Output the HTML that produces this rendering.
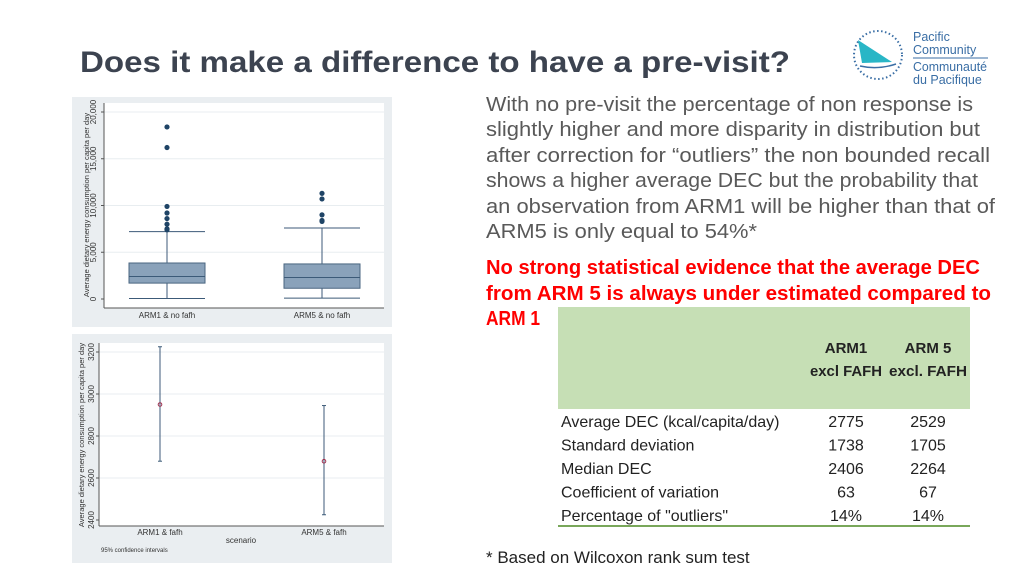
<!DOCTYPE html>
<html><head><meta charset="utf-8"><style>
html,body{margin:0;padding:0;background:#fff;width:1024px;height:576px;overflow:hidden}
svg text{font-family:"Liberation Sans",sans-serif}
</style></head><body>
<svg id="s" width="1024" height="576" viewBox="0 0 1024 576" xmlns="http://www.w3.org/2000/svg">
<text x="80" y="72" font-size="30" font-weight="bold" fill="#3c4350" textLength="710" lengthAdjust="spacingAndGlyphs">Does it make a difference to have a pre-visit?</text>
<g>
<circle cx="878" cy="55" r="24" fill="none" stroke="#3a6ea5" stroke-width="2" stroke-dasharray="1.5 2.5"/>
<polygon points="858,40 892,62 862,63" fill="#29b6c6"/>
<path d="M860,66 Q878,70 896,64" stroke="#3a6ea5" fill="none" stroke-width="1.5"/>
<text x="913" y="41" font-size="12.5" fill="#3a6ea5">Pacific</text>
<text x="913" y="54" font-size="12.5" fill="#3a6ea5">Community</text>
<line x1="913" y1="58" x2="988" y2="58" stroke="#3a6ea5"/>
<text x="913" y="71" font-size="12.5" fill="#3a6ea5" textLength="74" lengthAdjust="spacingAndGlyphs">Communauté</text>
<text x="913" y="84" font-size="12.5" fill="#3a6ea5">du Pacifique</text>
</g>
<g font-size="20" fill="#595959">
<text x="486" y="111" textLength="487" lengthAdjust="spacingAndGlyphs">With no pre-visit the percentage of non response is</text>
<text x="486" y="136" textLength="494" lengthAdjust="spacingAndGlyphs">slightly higher and more disparity in distribution but</text>
<text x="486" y="162" textLength="504" lengthAdjust="spacingAndGlyphs">after correction for “outliers” the non bounded recall</text>
<text x="486" y="187" textLength="492" lengthAdjust="spacingAndGlyphs">shows a higher average DEC but the probability that</text>
<text x="486" y="213" textLength="509" lengthAdjust="spacingAndGlyphs">an observation from ARM1 will be higher than that of</text>
<text x="486" y="238" textLength="271" lengthAdjust="spacingAndGlyphs">ARM5 is only equal to 54%*</text>
</g>
<g font-size="20" font-weight="bold" fill="#ff0000">
<text x="486" y="274" textLength="494" lengthAdjust="spacingAndGlyphs">No strong statistical evidence that the average DEC</text>
<text x="486" y="300" textLength="505" lengthAdjust="spacingAndGlyphs">from ARM 5 is always under estimated compared to</text>
<text x="486" y="325" textLength="54" lengthAdjust="spacingAndGlyphs">ARM 1</text>
</g>
<g>
<rect x="558" y="307" width="412" height="102" fill="#c6dfb5"/>
<line x1="558" y1="526" x2="970" y2="526" stroke="#79a75a" stroke-width="2"/>
<g font-size="15" font-weight="bold" fill="#222" text-anchor="middle">
<text x="846" y="353">ARM1</text><text x="846" y="376" textLength="72" lengthAdjust="spacingAndGlyphs">excl FAFH</text>
<text x="928" y="353">ARM 5</text><text x="928" y="376" textLength="78" lengthAdjust="spacingAndGlyphs">excl. FAFH</text>
</g>
<g id="rows" font-size="16" fill="#222"></g>
</g>
<text x="486" y="563" font-size="17" fill="#222">* Based on Wilcoxon rank sum test</text>
<g>
<rect x="72" y="97" width="320" height="230" fill="#eaeef1"/>
<rect x="104" y="103" width="280" height="205" fill="#fff"/>
<g id="box"></g>
</g>
<g>
<rect x="72" y="334" width="320" height="229" fill="#eaeef1"/>
<rect x="99" y="343" width="285" height="183" fill="#fff"/>
<g id="ci"></g>
</g>
</svg>
<script>
const rowLabels=["Average DEC (kcal/capita/day)","Standard deviation","Median DEC","Coefficient of variation","Percentage of \"outliers\""];
const arm1Vals=["2775","1738","2406","63","14%"];
const arm5Vals=["2529","1705","2264","67","14%"];
const boxCats=["ARM1 & no fafh","ARM5 & no fafh"];
const boxLow=[50,100];
const boxQ1=[1700,1150];
const boxMed=[2400,2300];
const boxQ3=[3850,3750];
const boxHigh=[7200,7600];
const boxOutliers=[[7400,7500,8000,8600,9200,9900,16200,18400],[8300,8400,9000,10700,11300]];
const boxTicks=[0,5000,10000,15000,20000];
const boxTickLabels=["0","5,000","10,000","15,000","20,000"];
const ciCats=["ARM1 & fafh","ARM5 & fafh"];
const ciMean=[2950,2680];
const ciLow=[2680,2425];
const ciHigh=[3225,2945];
const ciTicks=[2400,2600,2800,3000,3200];
const NS="http://www.w3.org/2000/svg";
function mk(p,t,a,txt){const e=document.createElementNS(NS,t);for(const k in a)e.setAttribute(k,a[k]);if(txt!==undefined)e.textContent=txt;p.appendChild(e);return e;}
const rows=document.getElementById('rows');
rowLabels.forEach((l,i)=>{const y=427+i*23.5;
 let e=mk(rows,'text',{x:561,y:y},l);
 e=mk(rows,'text',{x:846,y:y,'text-anchor':'middle'},arm1Vals[i]);
 e=mk(rows,'text',{x:928,y:y,'text-anchor':'middle'},arm5Vals[i]);
});
const bg=document.getElementById('box');
const by=v=>299-v/20000*187;
const bx=i=>[167,322][i];
boxTicks.forEach((t,i)=>{
 if(t>0){const g=mk(bg,'line',{x1:104,x2:384,y1:by(t),y2:by(t),stroke:'#e8edf0'});}
 const tx=mk(bg,'text',{x:0,y:0,'font-size':8,fill:'#333','text-anchor':'middle',transform:`translate(96,${by(t)}) rotate(-90)`},boxTickLabels[i]);
 
 mk(bg,'line',{x1:101,x2:104,y1:by(t),y2:by(t),stroke:'#555'});
});
mk(bg,'line',{x1:104,x2:104,y1:103,y2:308,stroke:'#555'});
mk(bg,'line',{x1:104,x2:384,y1:308,y2:308,stroke:'#555'});
let yt=mk(bg,'text',{x:0,y:0,'font-size':7.5,fill:'#333','text-anchor':'middle',transform:'translate(89,205) rotate(-90)'},'Average dietary energy consumption per capita per day');

boxCats.forEach((c,i)=>{const x=bx(i),w=38;
 mk(bg,'line',{x1:x,x2:x,y1:by(boxLow[i]),y2:by(boxQ1[i]),stroke:'#3c5a78'});
 mk(bg,'line',{x1:x,x2:x,y1:by(boxQ3[i]),y2:by(boxHigh[i]),stroke:'#3c5a78'});
 mk(bg,'line',{x1:x-w,x2:x+w,y1:by(boxLow[i]),y2:by(boxLow[i]),stroke:'#3c5a78'});
 mk(bg,'line',{x1:x-w,x2:x+w,y1:by(boxHigh[i]),y2:by(boxHigh[i]),stroke:'#3c5a78'});
 const r=mk(bg,'rect',{x:x-w,y:by(boxQ3[i]),width:2*w,height:by(boxQ1[i])-by(boxQ3[i]),fill:'#8aa2ba',stroke:'#4a6680'});
 
 mk(bg,'line',{x1:x-w,x2:x+w,y1:by(boxMed[i]),y2:by(boxMed[i]),stroke:'#3c5a78'});
 boxOutliers[i].forEach(v=>{const d=mk(bg,'circle',{cx:x,cy:by(v),r:2.6,fill:'#1f4466'});});
 const t=mk(bg,'text',{x:x,y:318,'font-size':8,fill:'#333','text-anchor':'middle'},c);
});
const cg=document.getElementById('ci');
const cy=v=>520-(v-2400)/800*168;
const cx=i=>[160,324][i];
ciTicks.forEach(t=>{
 if(t>2400){const g=mk(cg,'line',{x1:99,x2:384,y1:cy(t),y2:cy(t),stroke:'#e8edf0'});}
 const tx=mk(cg,'text',{x:0,y:0,'font-size':8,fill:'#333','text-anchor':'middle',transform:`translate(94,${cy(t)}) rotate(-90)`},String(t));
 
 mk(cg,'line',{x1:96,x2:99,y1:cy(t),y2:cy(t),stroke:'#555'});
});
mk(cg,'line',{x1:99,x2:99,y1:343,y2:526,stroke:'#555'});
mk(cg,'line',{x1:99,x2:384,y1:526,y2:526,stroke:'#555'});
yt=mk(cg,'text',{x:0,y:0,'font-size':7.5,fill:'#333','text-anchor':'middle',transform:'translate(84,435) rotate(-90)'},'Average dietary energy consumption per capita per day');

ciCats.forEach((c,i)=>{const x=cx(i);
 const l=mk(cg,'line',{x1:x,x2:x,y1:cy(ciLow[i]),y2:cy(ciHigh[i]),stroke:'#3c5a78'});
 mk(cg,'line',{x1:x-2,x2:x+2,y1:cy(ciLow[i]),y2:cy(ciLow[i]),stroke:'#3c5a78'});
 mk(cg,'line',{x1:x-2,x2:x+2,y1:cy(ciHigh[i]),y2:cy(ciHigh[i]),stroke:'#3c5a78'});
 const d=mk(cg,'circle',{cx:x,cy:cy(ciMean[i]),r:1.8,fill:'none',stroke:'#a03050'});
 const t=mk(cg,'text',{x:x,y:535,'font-size':8,fill:'#333','text-anchor':'middle'},c);
});
let t2=mk(cg,'text',{x:241,y:543,'font-size':8,fill:'#333','text-anchor':'middle'},'scenario');
t2=mk(cg,'text',{x:101,y:552,'font-size':6,fill:'#333'},'95% confidence intervals');
</script>
</body></html>
